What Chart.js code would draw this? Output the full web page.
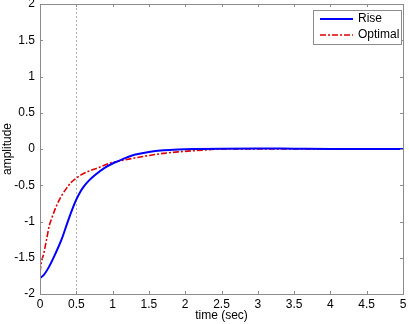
<!DOCTYPE html>
<html>
<head>
<meta charset="utf-8">
<script src="https://cdn.jsdelivr.net/npm/chart.js@4"></script>
<style>
  html, body { margin: 0; padding: 0; background: #fff; }
  #wrap { width: 409px; height: 324px; }
</style>
</head>
<body>
<div id="wrap"><canvas id="stepChart"></canvas></div>
<script>
// values
const riseTime = [0, 0.05, 0.11, 0.2, 0.3, 0.39, 0.49, 0.55, 0.61, 0.68, 0.75, 0.89, 1.0, 1.07, 1.2, 1.3, 1.5, 1.7, 1.9, 2.2, 2.5, 3, 3.5, 4, 4.5, 5];
const riseAmp = [-1.78, -1.74, -1.65, -1.47, -1.24, -0.98, -0.72, -0.6, -0.51, -0.43, -0.365, -0.26, -0.2, -0.17, -0.115, -0.08, -0.04, -0.018, -0.007, 0, 0.005, 0.008, 0.004, 0, 0, 0];
const optTime = [0, 0.02, 0.05, 0.09, 0.13, 0.16, 0.22, 0.3, 0.36, 0.43, 0.49, 0.56, 0.66, 0.8, 0.98, 1.07, 1.3, 1.5, 1.7, 1.9, 2.1, 2.3, 2.5, 3, 3.5, 4, 4.5, 5];
const optAmp = [-1.7, -1.56, -1.45, -1.25, -1.05, -0.96, -0.8, -0.64, -0.55, -0.46, -0.41, -0.36, -0.31, -0.26, -0.19, -0.17, -0.125, -0.09, -0.06, -0.04, -0.025, -0.012, 0, 0, 0, 0, 0, 0];
const xTicks = [0, 0.5, 1, 1.5, 2, 2.5, 3, 3.5, 4, 4.5, 5];
const yTicks = [-2, -1.5, -1, -0.5, 0, 0.5, 1, 1.5, 2];
const seriesNames = ['Rise', 'Optimal'];

const FONT = 'Liberation Sans, Arial, sans-serif';

function toPoints(xs, ys) {
    return xs.map((x, i) => ({ x: x, y: ys[i] }));
}

// box, inward ticks and the dashed line at t = 0.5
const framePlugin = {
    id: 'frame',
    beforeDatasetsDraw(chart) {
        const ctx = chart.ctx;
        const area = chart.chartArea;
        const xs = chart.scales.x;
        ctx.save();
        ctx.strokeStyle = '#b0b0b0';
        ctx.lineWidth = 1;
        ctx.setLineDash([2, 2]);
        const gx = Math.round(xs.getPixelForValue(0.5)) + 0.5;
        ctx.beginPath();
        ctx.moveTo(gx, area.top);
        ctx.lineTo(gx, area.bottom);
        ctx.stroke();
        ctx.restore();
    },
    afterDraw(chart) {
        const ctx = chart.ctx;
        const area = chart.chartArea;
        const xs = chart.scales.x;
        const ys = chart.scales.y;
        ctx.save();
        ctx.strokeStyle = '#8c8c8c';
        ctx.lineWidth = 1;
        ctx.strokeRect(Math.round(area.left) + 0.5, Math.round(area.top) + 0.5,
            Math.round(area.right - area.left), Math.round(area.bottom - area.top));
        ctx.beginPath();
        xTicks.forEach(v => {
            const px = Math.round(xs.getPixelForValue(v)) + 0.5;
            ctx.moveTo(px, area.bottom);
            ctx.lineTo(px, area.bottom - 3);
            ctx.moveTo(px, area.top);
            ctx.lineTo(px, area.top + 3);
        });
        yTicks.forEach(v => {
            const py = Math.round(ys.getPixelForValue(v)) + 0.5;
            ctx.moveTo(area.left, py);
            ctx.lineTo(area.left + 3, py);
            ctx.moveTo(area.right, py);
            ctx.lineTo(area.right - 3, py);
        });
        ctx.stroke();

        // legend in the top right corner
        const lx = 313, ly = 10, lw = 88, lh = 34;
        ctx.fillStyle = '#fff';
        ctx.fillRect(lx, ly, lw, lh);
        ctx.strokeStyle = '#8c8c8c';
        ctx.strokeRect(lx + 0.5, ly + 0.5, lw, lh);
        chart.data.datasets.forEach((ds, i) => {
            const y = ly + 9 + i * 16;
            ctx.strokeStyle = ds.borderColor;
            ctx.lineWidth = ds.borderWidth;
            ctx.setLineDash(ds.borderDash || []);
            ctx.beginPath();
            ctx.moveTo(lx + 7, y);
            ctx.lineTo(lx + 40, y);
            ctx.stroke();
            ctx.setLineDash([]);
            ctx.fillStyle = '#000';
            ctx.font = '12px ' + FONT;
            ctx.textBaseline = 'middle';
            ctx.textAlign = 'left';
            ctx.fillText(ds.label, lx + 45, y);
        });
        ctx.restore();
    }
};

new Chart('stepChart', {
    type: 'line',
    data: {
        datasets: [{
            label: seriesNames[0],
            data: toPoints(riseTime, riseAmp),
            borderColor: '#0000ff',
            borderWidth: 2,
            pointRadius: 0,
            cubicInterpolationMode: 'monotone'
        }, {
            label: seriesNames[1],
            data: toPoints(optTime, optAmp),
            borderColor: '#e00000',
            borderWidth: 1.6,
            borderDash: [6, 2, 2, 2],
            pointRadius: 0,
            cubicInterpolationMode: 'monotone'
        }]
    },
    options: {
        responsive: true,
        maintainAspectRatio: false,
        animation: false,
        layout: { padding: { top: 4, right: 6, left: 0, bottom: 0 } },
        plugins: {
            legend: { display: false },
            tooltip: { enabled: false }
        },
        scales: {
            x: {
                type: 'linear',
                min: 0,
                max: 5,
                grid: { display: false, drawTicks: false },
                border: { display: false },
                afterBuildTicks: s => { s.ticks = xTicks.map(v => ({ value: v })); },
                afterFit: s => { s.height = 30; s.paddingLeft = 0; s.paddingRight = 0; },
                ticks: {
                    color: '#000',
                    padding: 3,
                    font: { family: FONT, size: 12 },
                    maxRotation: 0,
                    callback: v => String(v)
                },
                title: {
                    display: true,
                    text: 'time (sec)',
                    color: '#000',
                    font: { family: FONT, size: 12 },
                    padding: { top: 0, bottom: 1 }
                }
            },
            y: {
                min: -2,
                max: 2,
                grid: { display: false, drawTicks: false },
                border: { display: false },
                afterBuildTicks: s => { s.ticks = yTicks.map(v => ({ value: v })); },
                afterFit: s => { s.width = 40; s.paddingTop = 0; s.paddingBottom = 0; },
                ticks: {
                    color: '#000',
                    padding: 5,
                    font: { family: FONT, size: 12 },
                    callback: v => String(v)
                },
                title: {
                    display: true,
                    text: 'amplitude',
                    color: '#000',
                    font: { family: FONT, size: 12 },
                    padding: { top: 0, bottom: 0 }
                }
            }
        }
    },
    plugins: [framePlugin]
});
</script>
</body>
</html>
